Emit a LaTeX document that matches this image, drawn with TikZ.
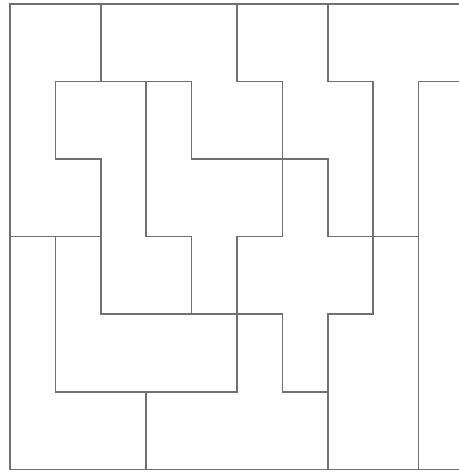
\documentclass[tikz,border=0pt]{standalone}
\definecolor{wall}{RGB}{112,112,112}
\tikzset{wallline/.style={draw=wall,line width=1.6pt,line cap=rect}}
\begin{document}
\begin{tikzpicture}
\useasboundingbox (0pt,0pt) rectangle (458pt,-474pt);
\fill[white] (0pt,0pt) rectangle (458pt,-474pt);
\begin{scope}[shift={(10pt,-4pt)},x=45.41pt,y=-77.55pt]
\def\E{9.87}
% outer border (right side cropped)
\draw[wallline] (\E,0) -- (0,0) -- (0,6) -- (\E,6);
% horizontal walls
\draw[wallline] (1,1) -- (4,1);
\draw[wallline] (5,1) -- (6,1);
\draw[wallline] (7,1) -- (8,1);
\draw[wallline] (9,1) -- (\E,1);
\draw[wallline] (1,2) -- (2,2);
\draw[wallline] (4,2) -- (7,2);
\draw[wallline] (0,3) -- (2,3);
\draw[wallline] (3,3) -- (4,3);
\draw[wallline] (5,3) -- (6,3);
\draw[wallline] (7,3) -- (9,3);
\draw[wallline] (2,4) -- (6,4);
\draw[wallline] (7,4) -- (8,4);
\draw[wallline] (1,5) -- (5,5);
\draw[wallline] (6,5) -- (7,5);
% vertical walls
\draw[wallline] (1,1) -- (1,2);
\draw[wallline] (1,3) -- (1,5);
\draw[wallline] (2,0) -- (2,1);
\draw[wallline] (2,2) -- (2,4);
\draw[wallline] (3,1) -- (3,3);
\draw[wallline] (3,5) -- (3,6);
\draw[wallline] (4,1) -- (4,2);
\draw[wallline] (4,3) -- (4,4);
\draw[wallline] (5,0) -- (5,1);
\draw[wallline] (5,3) -- (5,5);
\draw[wallline] (6,1) -- (6,3);
\draw[wallline] (6,4) -- (6,5);
\draw[wallline] (7,0) -- (7,1);
\draw[wallline] (7,2) -- (7,3);
\draw[wallline] (7,4) -- (7,6);
\draw[wallline] (8,1) -- (8,4);
\draw[wallline] (9,1) -- (9,6);
\end{scope}
\end{tikzpicture}
\end{document}
